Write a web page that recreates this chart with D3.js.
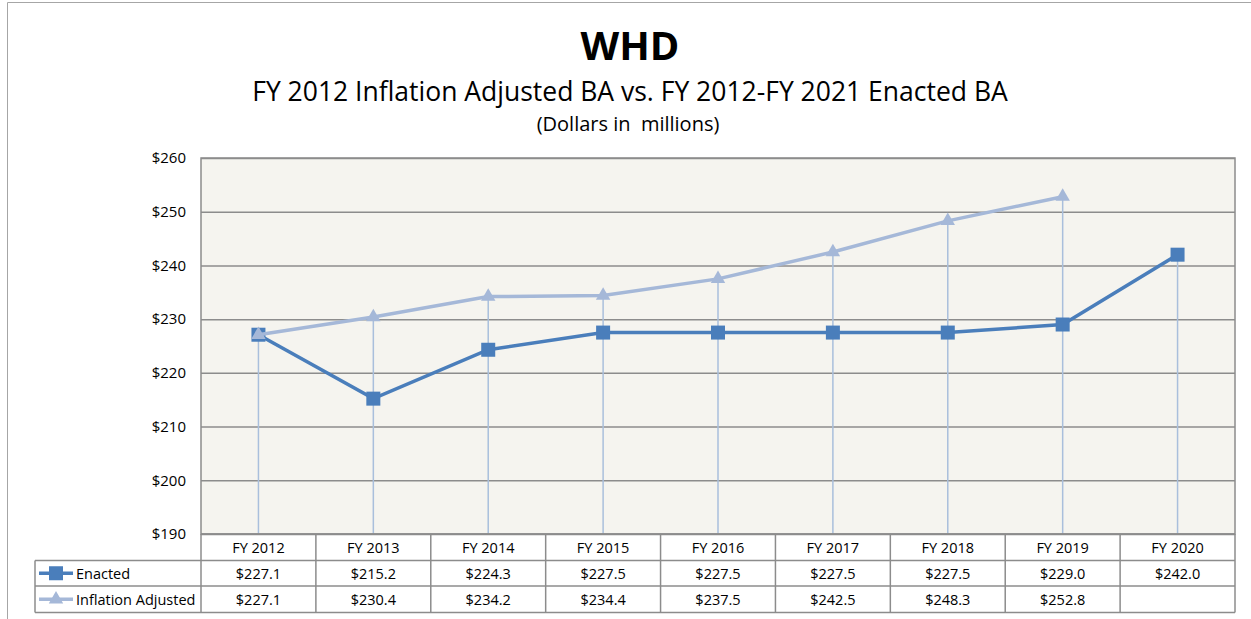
<!DOCTYPE html>
<html><head><meta charset="utf-8">
<script src="https://cdn.jsdelivr.net/npm/d3@7"></script>
<style>body{margin:0;background:#fff}svg{display:block}text{font-family:"Open Sans","Noto Sans",sans-serif}</style>
</head><body><svg id="c" width="1251" height="619"></svg>
<script>
const categories = ["FY 2012","FY 2013","FY 2014","FY 2015","FY 2016","FY 2017","FY 2018","FY 2019","FY 2020"];
const enacted = [227.1,215.2,224.3,227.5,227.5,227.5,227.5,229.0,242.0];
const inflation = [227.1,230.4,234.2,234.4,237.5,242.5,248.3,252.8,null];
const yTicks = [190,200,210,220,230,240,250,260];
const seriesNames = ["Enacted","Inflation Adjusted"];
const colors = ["#4A7EBB","#A5B8D8"];

const svg = d3.select("#c");
const L=201,R=1235,T=158,B=534;
const x = d3.scaleBand().domain(categories).range([L,R]);
const y = d3.scaleLinear().domain([190,260]).range([B,T]);
const fmt = v => "$"+d3.format(".1f")(v);

// outer frame
svg.append("path").attr("d","M7.5,619 V2.5 H1251").attr("fill","none").attr("stroke","#a6a6a6").attr("stroke-width",1);

// titles
svg.append("text").attr("x",630).attr("y",60).attr("text-anchor","middle").attr("font-size",40).attr("font-weight","bold").attr("fill","#000").text("WHD");
svg.append("text").attr("x",630).attr("y",101).attr("text-anchor","middle").attr("font-size",26.5).attr("fill","#000").text("FY 2012 Inflation Adjusted BA vs. FY 2012-FY 2021 Enacted BA");
svg.append("text").attr("x",628).attr("y",131).attr("text-anchor","middle").attr("font-size",20).attr("fill","#000").attr("xml:space","preserve").text("(Dollars in  millions)");

// plot bg
svg.append("rect").attr("x",L).attr("y",T).attr("width",R-L).attr("height",B-T).attr("fill","#F5F4EF");

// gridlines
const yAxis = d3.axisLeft(y).tickValues(yTicks).tickSize(-(R-L)).tickFormat(d=>"$"+d);
const ga = svg.append("g").attr("transform",`translate(${L},0)`).call(yAxis);
ga.select(".domain").remove();
ga.selectAll(".tick line").attr("stroke","#8c8c8c").attr("stroke-width",1.5);
ga.selectAll(".tick text").attr("x",-15).attr("font-size",15).attr("fill","#000");

// drop lines
categories.forEach((c,i)=>{
  const vals=[enacted[i],inflation[i]].filter(v=>v!=null);
  const top=d3.max(vals);
  svg.append("line").attr("x1",x(c)+x.bandwidth()/2).attr("x2",x(c)+x.bandwidth()/2)
    .attr("y1",y(top)).attr("y2",B).attr("stroke","#A9BFDC").attr("stroke-width",1.5);
});

// plot border
svg.append("rect").attr("x",L).attr("y",T).attr("width",R-L).attr("height",B-T).attr("fill","none").attr("stroke","#8c8c8c").attr("stroke-width",1.5);

const cx = c => x(c)+x.bandwidth()/2;
const line = d3.line().defined(d=>d.v!=null).x(d=>cx(d.c)).y(d=>y(d.v));
const enData = categories.map((c,i)=>({c,v:enacted[i]}));
const inData = categories.map((c,i)=>({c,v:inflation[i]}));

// enacted
svg.append("path").datum(enData).attr("d",line).attr("fill","none").attr("stroke",colors[0]).attr("stroke-width",3.5);
svg.selectAll(".sq").data(enData).enter().append("rect").attr("x",d=>cx(d.c)-7).attr("y",d=>y(d.v)-7).attr("width",14).attr("height",14).attr("fill",colors[0]);
// inflation
svg.append("path").datum(inData).attr("d",line).attr("fill","none").attr("stroke",colors[1]).attr("stroke-width",3.5);
const tri = d3.symbol().type(d3.symbolTriangle).size(90);
svg.selectAll(".tri").data(inData.filter(d=>d.v!=null)).enter().append("path").attr("d",tri).attr("transform",d=>`translate(${cx(d.c)},${y(d.v)})`).attr("fill",colors[1]);

// data table
const r0=B, r1=B+26.5, r2=B+52, r3=B+78.5;
const tg = svg.append("g");
const gs = "#8c8c8c";
tg.append("line").attr("x1",L).attr("x2",R).attr("y1",r0).attr("y2",r0).attr("stroke",gs).attr("stroke-width",1.5);
[r1,r2,r3].forEach(yy=>tg.append("line").attr("x1",35).attr("x2",R).attr("y1",yy).attr("y2",yy).attr("stroke",gs).attr("stroke-width",1.5));
tg.append("line").attr("x1",35).attr("x2",35).attr("y1",r1).attr("y2",r3).attr("stroke",gs).attr("stroke-width",1.5);
categories.forEach(c=>tg.append("line").attr("x1",x(c)).attr("x2",x(c)).attr("y1",r0).attr("y2",r3).attr("stroke",gs).attr("stroke-width",1.5));
tg.append("line").attr("x1",R).attr("x2",R).attr("y1",r0).attr("y2",r3).attr("stroke",gs).attr("stroke-width",1.5);

const fs=14.5;
categories.forEach((c,i)=>{
  tg.append("text").attr("x",cx(c)).attr("y",r0+19).attr("text-anchor","middle").attr("font-size",fs).text(c);
  if(enacted[i]!=null) tg.append("text").attr("x",cx(c)).attr("y",r1+18.5).attr("text-anchor","middle").attr("font-size",fs).text(fmt(enacted[i]));
  if(inflation[i]!=null) tg.append("text").attr("x",cx(c)).attr("y",r2+19).attr("text-anchor","middle").attr("font-size",fs).text(fmt(inflation[i]));
});
const ly1=(r1+r2)/2, ly2=(r2+r3)/2;
tg.append("line").attr("x1",39).attr("x2",73).attr("y1",ly1).attr("y2",ly1).attr("stroke",colors[0]).attr("stroke-width",3.5);
tg.append("rect").attr("x",49).attr("y",ly1-7).attr("width",14).attr("height",14).attr("fill",colors[0]);
tg.append("line").attr("x1",39).attr("x2",73).attr("y1",ly2).attr("y2",ly2).attr("stroke",colors[1]).attr("stroke-width",3.5);
tg.append("path").attr("d",tri).attr("transform",`translate(56,${ly2})`).attr("fill",colors[1]);
tg.append("text").attr("x",76).attr("y",r1+18.5).attr("font-size",fs).text(seriesNames[0]);
tg.append("text").attr("x",76).attr("y",r2+19).attr("font-size",fs).text(seriesNames[1]);
</script></body></html>
